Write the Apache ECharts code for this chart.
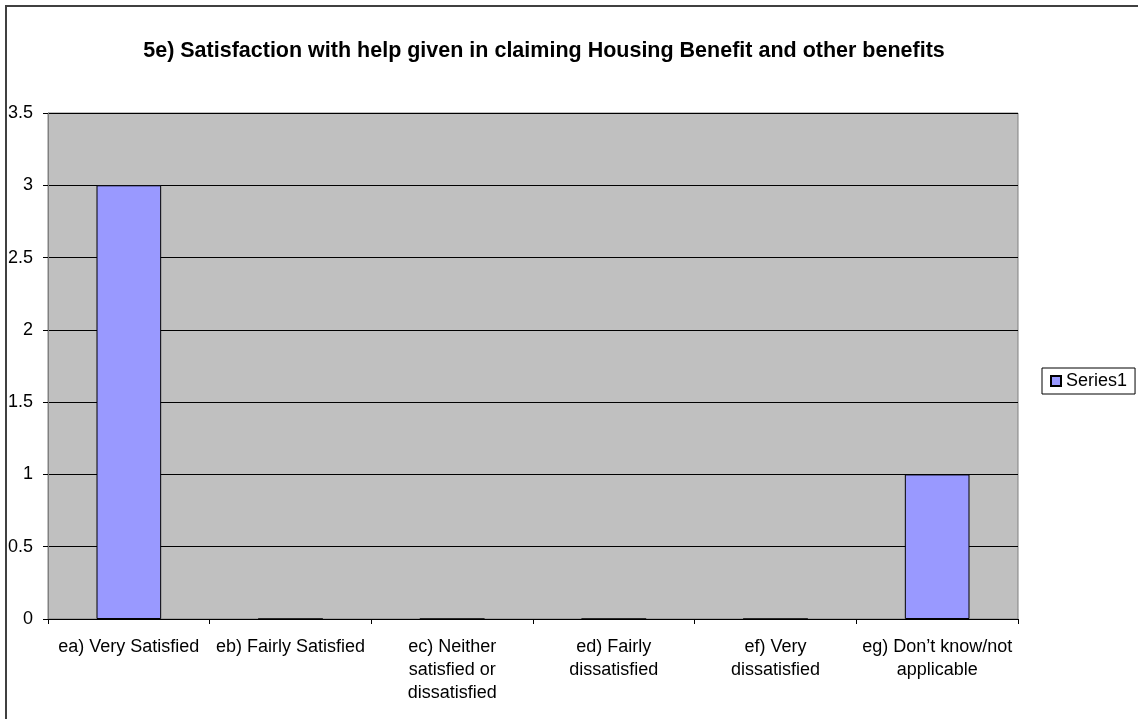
<!DOCTYPE html>
<html>
<head>
<meta charset="utf-8">
<script src="https://cdn.jsdelivr.net/npm/echarts@6/dist/echarts.min.js"></script>
<style>
  html, body { margin: 0; padding: 0; background: #fff; }
  #chart { width: 1138px; height: 719px; }
</style>
</head>
<body>
<div id="chart"></div>
<script>
const titleText = '5e) Satisfaction with help given in claiming Housing Benefit and other benefits';
const categories = [
  'ea) Very Satisfied',
  'eb) Fairly Satisfied',
  'ec) Neither\nsatisfied or\ndissatisfied',
  'ed) Fairly\ndissatisfied',
  'ef) Very\ndissatisfied',
  'eg) Don\u2019t know/not\napplicable'
];
const seriesName = 'Series1';
const seriesValues = [3, 0, 0, 0, 0, 1];

const FONT = '"Liberation Sans", Arial, sans-serif';

const chart = echarts.init(document.getElementById('chart'), null, { renderer: 'canvas' });
chart.setOption({
  backgroundColor: '#ffffff',
  animation: false,
  title: {
    text: titleText,
    left: 539,
    top: 35,
    textAlign: 'center',
    textStyle: { fontFamily: FONT, fontSize: 21.5, fontWeight: 'bold', color: '#000' }
  },
  legend: {
    data: [seriesName],
    left: 1042,
    top: 368,
    orient: 'vertical',
    icon: 'rect',
    itemWidth: 10,
    itemHeight: 10,
    itemGap: 5,
    padding: [4, 8, 4, 8],
    borderColor: '#000',
    borderWidth: 1,
    backgroundColor: '#fff',
    textStyle: { fontFamily: FONT, fontSize: 18, color: '#000' }
  },
  grid: {
    left: 48,
    right: 120,
    top: 113,
    bottom: 100,
    show: true,
    backgroundColor: '#c0c0c0',
    borderColor: '#808080',
    borderWidth: 1
  },
  xAxis: {
    type: 'category',
    data: categories,
    boundaryGap: true,
    axisLine: { show: true, lineStyle: { color: '#000', width: 1 } },
    axisTick: { show: true, alignWithLabel: false, length: 5, lineStyle: { color: '#000' } },
    axisLabel: {
      interval: 0,
      margin: 17,
      fontFamily: FONT,
      fontSize: 18,
      lineHeight: 23,
      color: '#000',
      align: 'center'
    },
    splitLine: { show: false }
  },
  yAxis: {
    type: 'value',
    min: 0,
    max: 3.5,
    interval: 0.5,
    axisLine: { show: true, lineStyle: { color: '#808080', width: 1 } },
    axisTick: { show: true, length: 5, lineStyle: { color: '#000' } },
    axisLabel: { fontFamily: FONT, fontSize: 18, color: '#000', margin: 15 },
    splitLine: { show: true, lineStyle: { color: '#000', width: 1 } }
  },
  series: [{
    name: seriesName,
    type: 'bar',
    data: seriesValues,
    barWidth: '40%',
    itemStyle: { color: '#9999ff', borderColor: '#000', borderWidth: 1 }
  }],
  graphic: [{
    type: 'rect',
    shape: { x: 6, y: 6, width: 1140, height: 720 },
    style: { fill: 'none', stroke: '#404040', lineWidth: 2 },
    silent: true
  }]
});
</script>
</body>
</html>
